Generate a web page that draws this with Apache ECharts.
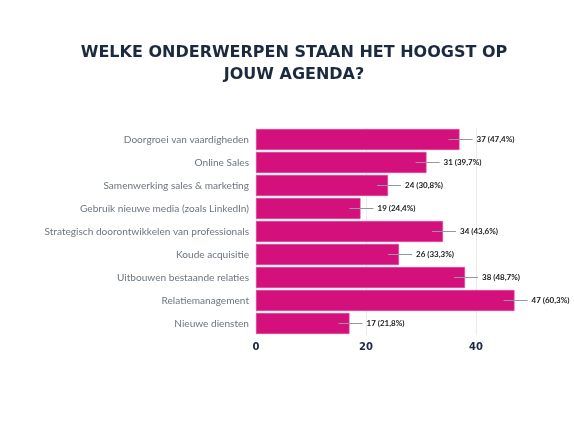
<!DOCTYPE html>
<html>
<head>
<meta charset="utf-8">
<style>html,body{margin:0;padding:0;background:#fff;}#c{width:574px;height:430px;}</style>
<script src="https://cdn.jsdelivr.net/npm/echarts@6/dist/echarts.min.js"></script>
</head>
<body>
<div id="c"></div>
<script>
const titleText = 'WELKE ONDERWERPEN STAAN HET HOOGST OP\nJOUW AGENDA?';
const categories = [
  'Doorgroei van vaardigheden',
  'Online Sales',
  'Samenwerking sales & marketing',
  'Gebruik nieuwe media (zoals LinkedIn)',
  'Strategisch doorontwikkelen van professionals',
  'Koude acquisitie',
  'Uitbouwen bestaande relaties',
  'Relatiemanagement',
  'Nieuwe diensten'
];
const counts = [37, 31, 24, 19, 34, 26, 38, 47, 17];
const percents = ['47,4%', '39,7%', '30,8%', '24,4%', '43,6%', '33,3%', '48,7%', '60,3%', '21,8%'];
const xTicks = [0, 20, 40];

const chart = echarts.init(document.getElementById('c'));
chart.setOption({
  backgroundColor: '#ffffff',
  animation: false,
  graphic: [{
    type: 'text',
    x: 294,
    y: 42,
    style: {
      text: titleText,
      fill: '#1c2a40',
      font: 'bold 16px "DejaVu Sans"',
      lineHeight: 22,
      align: 'center',
      verticalAlign: 'top'
    }
  }],
  grid: { left: 256, right: 43, top: 128, bottom: 95 },
  xAxis: {
    type: 'value',
    min: 0,
    max: 50,
    interval: 20,
    axisLine: { show: false },
    axisTick: { show: false },
    splitLine: { showMaxLine: false, lineStyle: { color: '#ebebeb', width: 1 } },
    axisLabel: {
      showMaxLabel: false,
      margin: 7,
      fontFamily: 'DejaVu Sans',
      fontWeight: 'bold',
      fontSize: 10,
      color: '#1c2a40',
      formatter: v => xTicks.includes(v) ? String(v) : ''
    }
  },
  yAxis: {
    type: 'category',
    data: categories,
    inverse: true,
    axisLine: { show: false },
    axisTick: { show: false },
    axisLabel: {
      margin: 7,
      fontFamily: 'Lato',
      fontSize: 10.1,
      color: '#6d7580'
    }
  },
  series: [
    {
      type: 'bar',
      data: counts,
      barCategoryGap: '9%',
      itemStyle: { color: '#d3107c', borderColor: '#e04a98', borderWidth: 0.6 }
    },
    {
      type: 'custom',
      clip: false,
      z: 5,
      data: counts.map((v, i) => [v, i]),
      encode: { x: 0, y: 1 },
      renderItem: function (params, api) {
        const v = api.value(0);
        const i = api.value(1);
        const p = api.coord([v, i]);
        return {
          type: 'group',
          children: [
            {
              type: 'line',
              shape: { x1: p[0] - 11, y1: p[1], x2: p[0] + 13, y2: p[1] },
              style: { stroke: '#8f99a6', lineWidth: 1 }
            },
            {
              type: 'text',
              style: {
                x: p[0] + 17,
                y: p[1],
                text: counts[i] + ' (' + percents[i] + ')',
                fill: '#1a1a1a',
                font: 'bold 8px Lato',
                verticalAlign: 'middle',
                align: 'left'
              }
            }
          ]
        };
      }
    }
  ]
});
</script>
</body>
</html>
